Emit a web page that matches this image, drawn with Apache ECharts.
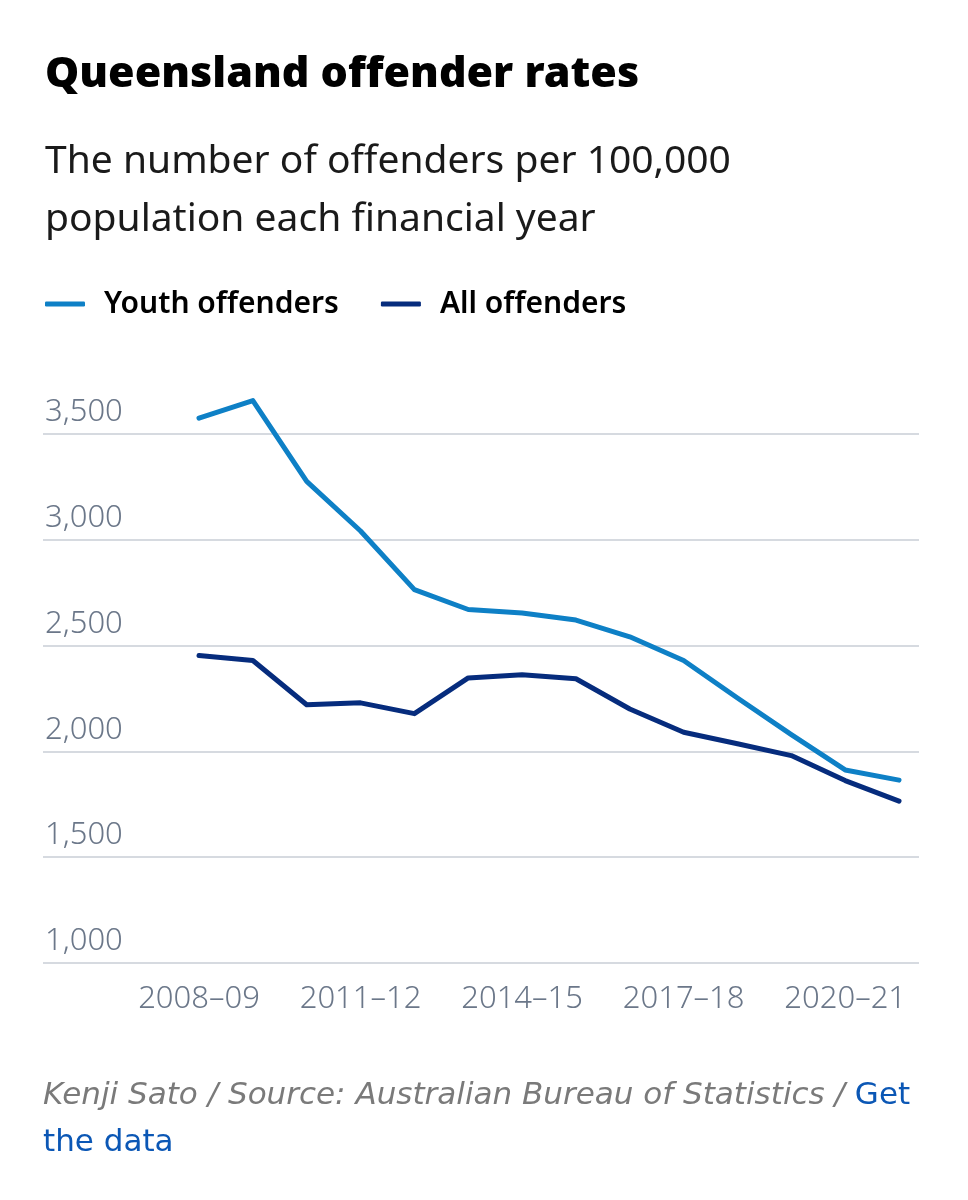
<!DOCTYPE html>
<html>
<head>
<meta charset="utf-8">
<style>
  html, body { margin: 0; padding: 0; background: #fff; }
  #chart { width: 968px; height: 1200px; }
</style>
</head>
<body>
<div id="chart"></div>
<script src="https://cdn.jsdelivr.net/npm/echarts@6/dist/echarts.min.js"></script>
<script>
  // financial years, one point each
  var years = ['2008–09', '2009–10', '2010–11', '2011–12', '2012–13', '2013–14', '2014–15',
    '2015–16', '2016–17', '2017–18', '2018–19', '2019–20', '2020–21', '2021–22'];
  var youthRates = [3574, 3657, 3275, 3041, 2764, 2670, 2654, 2620, 2541, 2429, 2252, 2079, 1912, 1864];
  var allRates = [2453, 2429, 2220, 2229, 2178, 2347, 2362, 2343, 2200, 2090, 2036, 1980, 1862, 1765];
  var yearTicks = [0, 3, 6, 9, 12];

  var labelGrey = '#6b7789';
  var font = 'Noto Sans';

  function pairs(vals) {
    var out = [];
    for (var i = 0; i < vals.length; i++) {
      out.push([i, vals[i]]);
    }
    return out;
  }

  var myChart = echarts.init(document.getElementById('chart'));

  var option = {
    backgroundColor: '#fff',
    animation: false,
    title: [{
      text: 'Queensland offender rates',
      left: 40,
      top: 48,
      textStyle: { fontFamily: font, fontSize: 43, fontWeight: 900, color: '#000' }
    }, {
      text: 'The number of offenders per 100,000\npopulation each financial year',
      left: 40,
      top: 128,
      textStyle: { fontFamily: font, fontSize: 39, fontWeight: 'normal', color: '#1a1a1a', lineHeight: 58 }
    }],
    legend: {
      left: 45,
      top: 289,
      padding: 0,
      icon: 'roundRect',
      itemWidth: 40,
      itemHeight: 5,
      itemGap: 42,
      textStyle: { fontFamily: font, fontSize: 30, fontWeight: 600, color: '#000', padding: [0, 0, 0, 14] },
      data: ['Youth offenders', 'All offenders']
    },
    grid: { left: 43, right: 49, top: 328, bottom: 237 },
    xAxis: {
      type: 'value',
      min: -2.897,
      max: 13.371,
      axisLine: { show: false },
      axisTick: { show: false },
      splitLine: { show: false },
      axisLabel: {
        customValues: yearTicks,
        formatter: function (v) { return years[v]; },
        margin: 21,
        fontFamily: font,
        fontSize: 31,
        fontWeight: 300,
        color: labelGrey
      }
    },
    yAxis: {
      type: 'value',
      min: 1000,
      max: 4000,
      interval: 500,
      axisLine: { show: false },
      axisTick: { show: false },
      splitLine: { showMaxLine: false, lineStyle: { color: '#d6dae0', width: 2 } },
      axisLabel: {
        inside: true,
        margin: 2,
        verticalAlign: 'bottom',
        padding: [0, 0, 6, 0],
        showMaxLabel: false,
        fontFamily: font,
        fontSize: 31,
        fontWeight: 300,
        color: labelGrey,
        formatter: function (v) { return v.toLocaleString('en-US'); }
      }
    },
    series: [{
      name: 'Youth offenders',
      type: 'line',
      data: pairs(youthRates),
      showSymbol: false,
      color: '#0e80c6',
      lineStyle: { width: 5, cap: 'round', join: 'round' }
    }, {
      name: 'All offenders',
      type: 'line',
      data: pairs(allRates),
      showSymbol: false,
      color: '#062c7d',
      lineStyle: { width: 5, cap: 'round', join: 'round' }
    }],
    graphic: [{
      type: 'text',
      left: 43,
      top: 1080,
      style: {
        text: '{a|Kenji Sato / Source: Australian Bureau of Statistics / }{b|Get}\n{b|the data}',
        rich: {
          a: { fontFamily: 'DejaVu Sans', fontSize: 31, fontStyle: 'italic', fill: '#7a7a7a', lineHeight: 47 },
          b: { fontFamily: 'DejaVu Sans', fontSize: 31, fill: '#0b57b5', lineHeight: 47 }
        }
      }
    }]
  };

  myChart.setOption(option);
</script>
</body>
</html>
